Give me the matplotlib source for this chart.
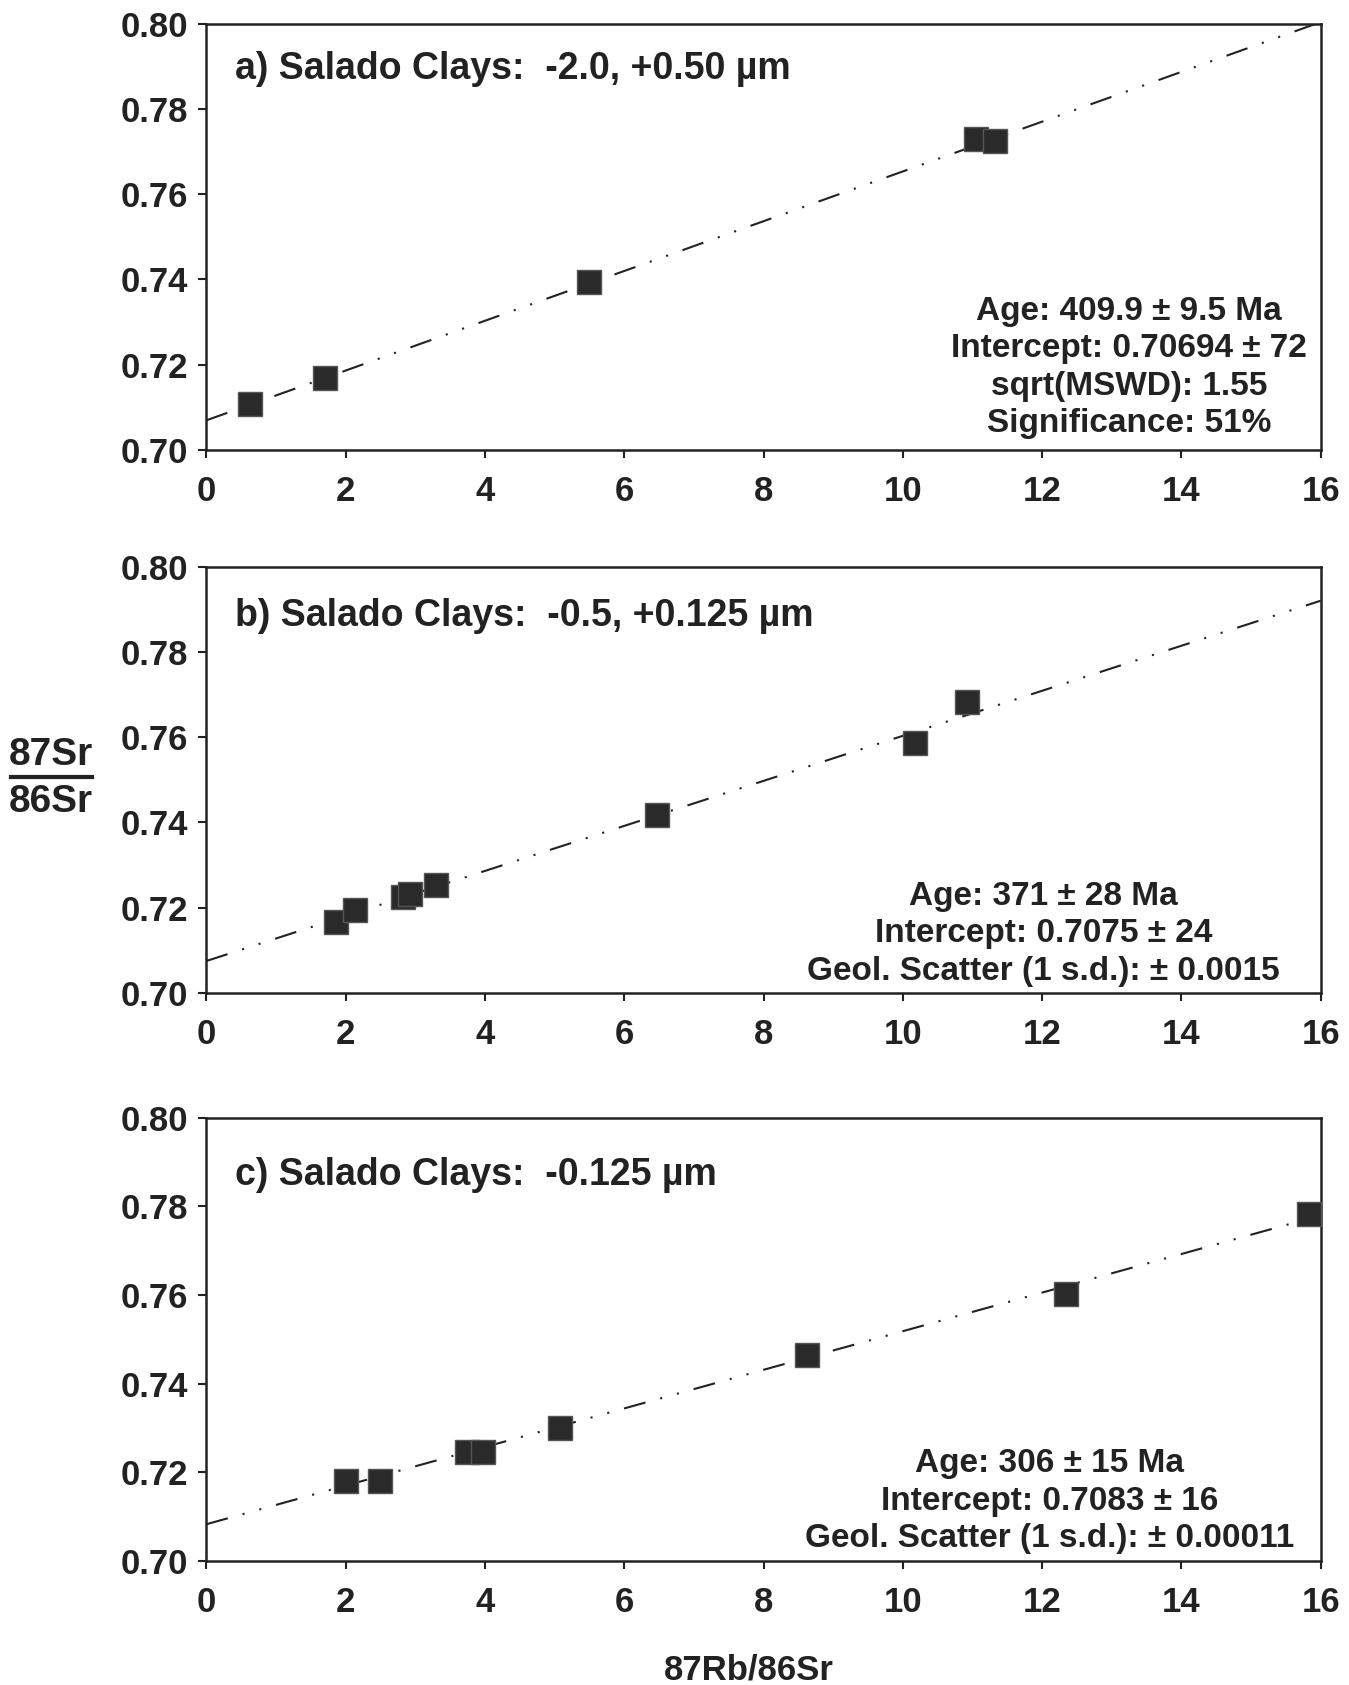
import numpy as np
import matplotlib
matplotlib.use("Agg")
import matplotlib.pyplot as plt

plt.rcParams['font.family'] = ['Liberation Sans', 'DejaVu Sans']
plt.rcParams['font.weight'] = 'bold'
plt.rcParams['lines.scale_dashes'] = False

# Panel a
a_x = [0.62, 1.70, 5.50, 11.05, 11.33]
a_y = [0.7108, 0.7169, 0.7395, 0.7730, 0.7725]
a_intercept = 0.70694
a_slope = 0.005838
# Panel b
b_x = [1.86, 2.13, 2.82, 2.93, 3.30, 6.47, 10.17, 10.92]
b_y = [0.7166, 0.7194, 0.7224, 0.7232, 0.7254, 0.7418, 0.7587, 0.7683]
b_intercept = 0.7075
b_slope = 0.005282
# Panel c
c_x = [2.00, 2.49, 3.74, 3.97, 5.08, 8.62, 12.35, 15.83]
c_y = [0.7180, 0.7180, 0.7245, 0.7245, 0.7299, 0.7464, 0.7602, 0.7782]
c_intercept = 0.7083
c_slope = 0.004355

titles = ["a) Salado Clays:  -2.0, +0.50 \u00b5m",
          "b) Salado Clays:  -0.5, +0.125 \u00b5m",
          "c) Salado Clays:  -0.125 \u00b5m"]
notes = ["Age: 409.9 \u00b1 9.5 Ma\nIntercept: 0.70694 \u00b1 72\nsqrt(MSWD): 1.55\nSignificance: 51%",
         "Age: 371 \u00b1 28 Ma\nIntercept: 0.7075 \u00b1 24\nGeol. Scatter (1 s.d.): \u00b1 0.0015",
         "Age: 306 \u00b1 15 Ma\nIntercept: 0.7083 \u00b1 16\nGeol. Scatter (1 s.d.): \u00b1 0.00011"]
note_pos = [(0.828, 0.025), (0.751, 0.015), (0.757, 0.015)]
title_y = [0.894, 0.884, 0.87]

xticks = [0, 2, 4, 6, 8, 10, 12, 14, 16]
yticks = [0.70, 0.72, 0.74, 0.76, 0.78, 0.80]

fig = plt.figure(figsize=(13.49, 16.85), dpi=100)
rects = [[0.153, 0.733, 0.826, 0.253],
         [0.153, 0.4107, 0.826, 0.253],
         [0.153, 0.0736, 0.826, 0.263]]
data = [(a_x, a_y, a_intercept, a_slope),
        (b_x, b_y, b_intercept, b_slope),
        (c_x, c_y, c_intercept, c_slope)]

for i, (r, (xs, ys, ic, sl)) in enumerate(zip(rects, data)):
    ax = fig.add_axes(r)
    lx = np.array([0, 16])
    ax.plot(lx, ic + sl * lx, color='#222222', lw=1.5,
            dashes=(16, 11, 1.5, 11, 1.5, 11), zorder=2)
    ax.plot(xs, ys, 's', ms=17, color='#2a2a2a', mec='#555555', mew=1.0, zorder=3,
            linestyle='none')
    ax.set_xlim(0, 16)
    ax.set_ylim(0.70, 0.80)
    ax.set_xticks(xticks)
    ax.set_yticks(yticks)
    ax.set_xticklabels([str(t) for t in xticks])
    ax.set_yticklabels(["%.2f" % t for t in yticks])
    ax.tick_params(direction='out', length=6, width=1.5, labelsize=25,
                   colors='#222222')
    ax.tick_params(axis='x', pad=12)
    ax.tick_params(axis='y', pad=7)
    for s in ax.spines.values():
        s.set_linewidth(1.8)
        s.set_color('#222222')
    for lab in ax.get_xticklabels() + ax.get_yticklabels():
        lab.set_fontweight('bold')
    ax.text(0.026, title_y[i], titles[i], transform=ax.transAxes, fontsize=27,
            fontweight='bold', color='#222222', va='center', ha='left')
    ax.text(note_pos[i][0], note_pos[i][1], notes[i], transform=ax.transAxes,
            fontsize=24, fontweight='bold', color='#222222', ha='center', va='bottom',
            linespacing=1.27, multialignment='center')

# y label as a fraction
fig.text(0.038, 0.5415, "87Sr", fontsize=28, fontweight='bold', color='#222222',
         ha='center', va='bottom')
fig.text(0.038, 0.5345, "86Sr", fontsize=28, fontweight='bold', color='#222222',
         ha='center', va='top')
fig.add_artist(plt.Line2D([0.008, 0.068], [0.539, 0.539], transform=fig.transFigure,
                          color='#222222', lw=3))

fig.text(0.555, 0.009, "87Rb/86Sr", fontsize=25, fontweight='bold', color='#222222',
         ha='center', va='center')

fig.savefig("out.png", dpi=100, facecolor='white')
